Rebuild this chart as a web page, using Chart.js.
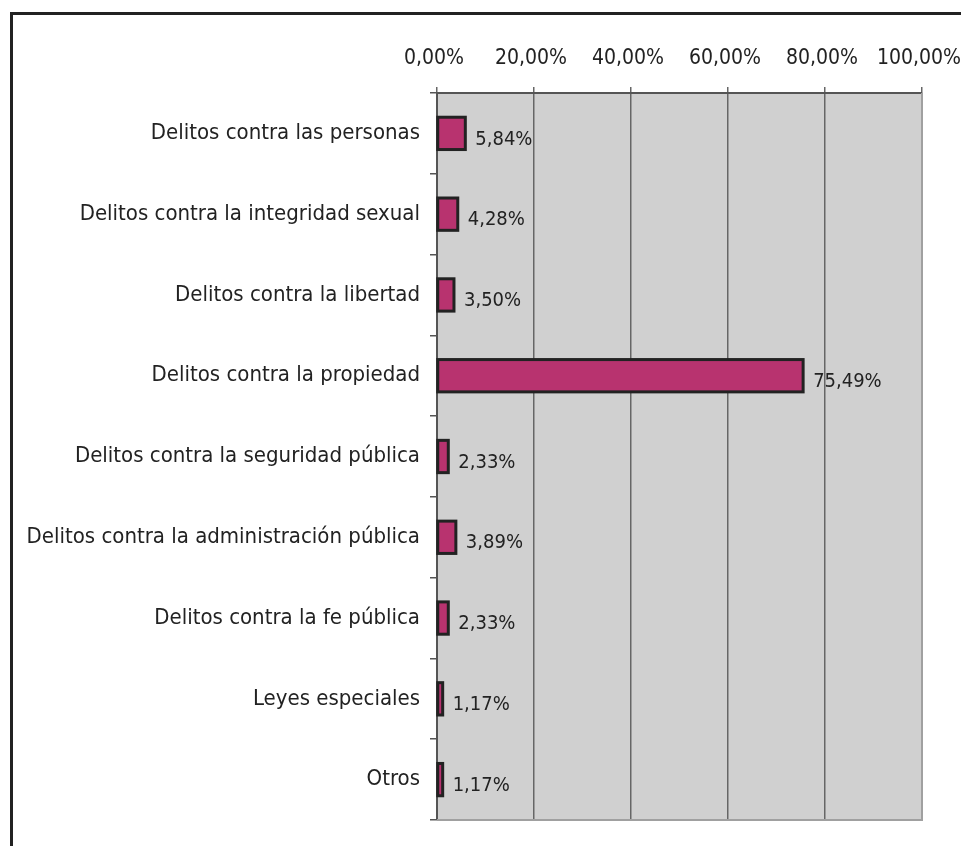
<!DOCTYPE html>
<html>
<head>
<meta charset="utf-8">
<script src="https://cdn.jsdelivr.net/npm/chart.js@4/dist/chart.umd.min.js"></script>
<style>
  html, body { margin: 0; padding: 0; background: #fff; overflow: hidden; }
  #wrap { position: relative; width: 961px; height: 846px; }
  #frame { position: absolute; left: 10px; top: 12px; width: 1000px; height: 900px; border: 3px solid #222; }
  canvas { position: absolute; left: 0; top: 0; }
</style>
</head>
<body>
<div id="wrap">
  <div id="frame"></div>
  <canvas id="chart" width="961" height="846"></canvas>
</div>
<script>
const categories = [
  "Delitos contra las personas",
  "Delitos contra la integridad sexual",
  "Delitos contra la libertad",
  "Delitos contra la propiedad",
  "Delitos contra la seguridad pública",
  "Delitos contra la administración pública",
  "Delitos contra la fe pública",
  "Leyes especiales",
  "Otros"
];
const percentages = [5.84, 4.28, 3.50, 75.49, 2.33, 3.89, 2.33, 1.17, 1.17];
const xTicks = [0, 20, 40, 60, 80, 100];

const FONT = "'DejaVu Sans Condensed', 'DejaVu Sans', sans-serif";

function fmt(v) {
  return v.toFixed(2).replace(".", ",") + "%";
}

const plotBackground = {
  id: "plotBackground",
  beforeDraw(chart) {
    const { ctx, chartArea } = chart;
    ctx.save();
    ctx.fillStyle = "#d0d0d0";
    ctx.fillRect(chartArea.left, chartArea.top, chartArea.right - chartArea.left, chartArea.bottom - chartArea.top);
    ctx.restore();
  },
  afterDraw(chart) {
    const { ctx, chartArea } = chart;
    ctx.save();
    ctx.strokeStyle = "#a0a0a0";
    ctx.lineWidth = 2;
    ctx.beginPath();
    ctx.moveTo(chartArea.right, chartArea.top);
    ctx.lineTo(chartArea.right, chartArea.bottom);
    ctx.lineTo(chartArea.left, chartArea.bottom);
    ctx.stroke();
    ctx.restore();
  }
};

// outlines drawn centred on the bar edges, then the value text
const barOutlines = {
  id: "barOutlines",
  afterDatasetsDraw(chart) {
    const { ctx } = chart;
    const meta = chart.getDatasetMeta(0);
    ctx.save();
    ctx.strokeStyle = "#222";
    ctx.lineWidth = 3;
    meta.data.forEach((bar) => {
      const h = bar.height;
      ctx.strokeRect(bar.base, bar.y - h / 2, bar.x - bar.base, h);
    });
    ctx.font = "20px " + FONT;
    ctx.fillStyle = "#222";
    ctx.textAlign = "left";
    ctx.textBaseline = "middle";
    meta.data.forEach((bar, i) => {
      ctx.fillText(fmt(percentages[i]), bar.x + 10, bar.y + 6);
    });
    ctx.restore();
  }
};

new Chart(document.getElementById("chart"), {
  type: "bar",
  data: {
    labels: categories,
    datasets: [{
      data: percentages,
      backgroundColor: "#b8336f",
      borderWidth: 0,
      barPercentage: 0.40,
      categoryPercentage: 1
    }]
  },
  options: {
    indexAxis: "y",
    responsive: false,
    animation: false,
    layout: { padding: { left: 10, right: 39, top: 30, bottom: 26 } },
    plugins: { legend: { display: false }, tooltip: { enabled: false } },
    scales: {
      x: {
        position: "top",
        min: 0,
        max: 100,
        afterBuildTicks(scale) {
          scale.ticks = xTicks.map(v => ({ value: v }));
        },
        afterFit(scale) {
          scale.height = 63;
          scale.paddingLeft = 0;
          scale.paddingRight = 0;
        },
        ticks: {
          color: "#222",
          font: { family: FONT, size: 21 },
          padding: 16,
          labelOffset: -3,
          callback: v => fmt(v)
        },
        grid: {
          color: "#666",
          lineWidth: 1.5,
          tickLength: 6,
          tickColor: "#666"
        },
        border: { color: "#555", width: 2 }
      },
      y: {
        afterFit(scale) { scale.width = 427; },
        ticks: {
          color: "#222",
          font: { family: FONT, size: 22 },
          padding: 10
        },
        grid: {
          drawOnChartArea: false,
          offset: true,
          tickLength: 7,
          tickColor: "#555",
          lineWidth: 1.5
        },
        border: { color: "#555", width: 2 }
      }
    }
  },
  plugins: [plotBackground, barOutlines]
});
</script>
</body>
</html>
